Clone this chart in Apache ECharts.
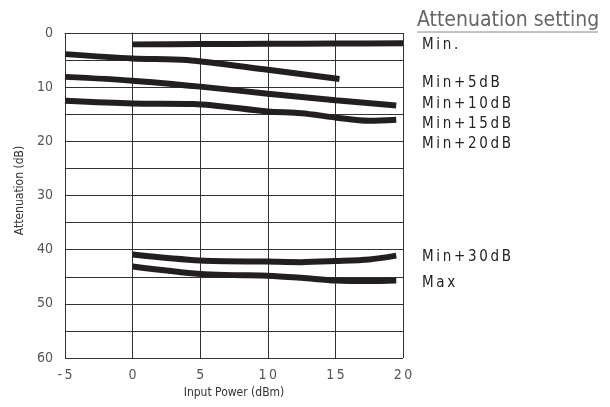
<!DOCTYPE html>
<html>
<head>
<meta charset="utf-8">
<script src="https://cdn.jsdelivr.net/npm/echarts@6/dist/echarts.min.js"></script>
<style>
  html, body { margin: 0; padding: 0; background: #fff; }
  #main { width: 610px; height: 407px; }
</style>
</head>
<body>
<div id="main"></div>
<script>
// input power (dBm) and attenuation (dB) per setting
var powerMin = [0, 5, 10, 15, 20];
var attMin = [2.1, 2.05, 2.0, 1.95, 1.9];

var power5 = [-5, 0, 4, 10, 15.3];
var att5 = [3.9, 4.7, 5.0, 6.8, 8.5];

var power10 = [-5, 0, 5, 10, 15, 19.5];
var att10 = [8.1, 8.8, 9.9, 11.2, 12.4, 13.4];

var power15 = [-5, 0, 4.5, 10, 12.5, 15, 17.5, 19.5];
var att15 = [12.5, 13.0, 13.1, 14.5, 14.8, 15.6, 16.2, 16.0];

var power30 = [0, 5, 10, 12.5, 15, 17.5, 19.5];
var att30 = [40.9, 42.0, 42.2, 42.3, 42.1, 41.8, 41.1];

var powerMax = [0, 5, 7.5, 10, 12.5, 15, 17.5, 19.5];
var attMax = [43.1, 44.5, 44.7, 44.8, 45.2, 45.7, 45.8, 45.7];

var settingLabels = ['Min.', 'Min+5dB', 'Min+10dB', 'Min+15dB', 'Min+20dB', 'Min+30dB', 'Max'];

var FONT = '"Liberation Sans Narrow", "DejaVu Sans Condensed", "Roboto", sans-serif';
var INK = '#231f20';

function pairs(xs, ys) {
  return xs.map(function (x, i) { return [x, ys[i]]; });
}
// the original typesetting is letter-spaced
function spaced(s) {
  return String(s).split('').join('\u2009');
}

function line(name, xs, ys) {
  return {
    name: name,
    type: 'line',
    data: pairs(xs, ys),
    smooth: 0.3,
    symbol: 'none',
    lineStyle: { color: INK, width: 6 },
    z: 5
  };
}

var chart = echarts.init(document.getElementById('main'), null, { renderer: 'canvas' });

// label positions on the right (pixels)
var labelY = [45, 83, 104, 124, 144, 257, 283];
var graphics = [
  {
    type: 'text', left: 417, top: 10,
    style: { text: 'Attenuation setting', fontSize: 21, fontFamily: FONT, fill: '#666' }
  },
  {
    type: 'line', shape: { x1: 417, y1: 32, x2: 598, y2: 32 },
    style: { stroke: '#888', lineWidth: 1 }
  }
];
settingLabels.forEach(function (t, i) {
  graphics.push({
    type: 'text', x: 422, y: labelY[i],
    style: {
      text: spaced(t), fontSize: 15, fontFamily: FONT, fill: '#222',
      verticalAlign: 'middle'
    }
  });
});

var option = {
  animation: false,
  grid: { left: 65, right: 207, top: 33, bottom: 49 },
  xAxis: {
    type: 'value',
    min: -5,
    max: 20,
    interval: 5,
    name: 'Input Power (dBm)',
    nameLocation: 'middle',
    nameGap: 19,
    nameTextStyle: { fontSize: 12, fontFamily: FONT, color: '#333' },
    axisLine: { lineStyle: { color: '#333', width: 1 } },
    axisTick: { length: 8, lineStyle: { color: '#333' } },
    axisLabel: {
      margin: 10, fontSize: 14, fontFamily: FONT, color: '#555',
      formatter: function (v) { return spaced(v); }
    },
    splitLine: { show: true, lineStyle: { color: '#333', width: 1 } }
  },
  yAxis: {
    type: 'value',
    inverse: true,
    min: 0,
    max: 60,
    interval: 5,
    name: 'Attenuation (dB)',
    nameLocation: 'middle',
    nameGap: 39,
    nameTextStyle: { fontSize: 12, fontFamily: FONT, color: '#333', padding: [0, 0, 0, 10] },
    axisLine: { show: true, lineStyle: { color: '#333', width: 1 } },
    axisTick: { show: true, length: 5, lineStyle: { color: '#333' } },
    axisLabel: {
      margin: 12, fontSize: 14, fontFamily: FONT, color: '#555',
      formatter: function (v) { return v % 10 === 0 ? String(v) : ''; }
    },
    splitLine: { show: true, lineStyle: { color: '#333', width: 1 } }
  },
  graphic: graphics,
  series: [
    line('Min.', powerMin, attMin),
    line('Min+5dB', power5, att5),
    line('Min+10dB', power10, att10),
    line('Min+15dB', power15, att15),
    line('Min+30dB', power30, att30),
    line('Max', powerMax, attMax)
  ]
};

chart.setOption(option);
</script>
</body>
</html>
